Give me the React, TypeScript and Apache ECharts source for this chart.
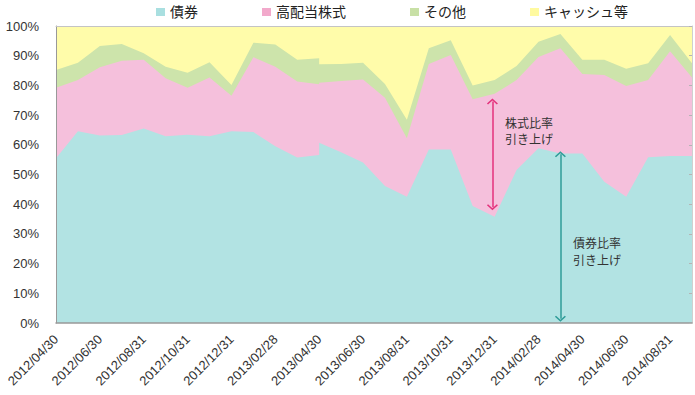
import React, { useEffect, useRef } from 'react';
import * as echarts from 'echarts';

// month-end dates (one per data month)
const months = [
  '2012/04/30', '2012/05/31', '2012/06/30', '2012/07/31', '2012/08/31', '2012/09/30',
  '2012/10/31', '2012/11/30', '2012/12/31', '2013/01/31', '2013/02/28', '2013/03/31',
  '2013/04/30', '2013/05/31', '2013/06/30', '2013/07/31', '2013/08/31', '2013/09/30',
  '2013/10/31', '2013/11/30', '2013/12/31', '2014/01/31', '2014/02/28', '2014/03/31',
  '2014/04/30', '2014/05/31', '2014/06/30', '2014/07/31', '2014/08/31', '2014/09/30',
];

// position (month index) of each observation; 2013/04/30 has a before/after pair
const xPos = [0, 1, 2, 3, 4, 5, 6, 7, 8, 9, 10, 11, 12, 12, 13, 14, 15, 16, 17, 18, 19, 20, 21, 22, 23, 24, 25, 26, 27, 28, 29];

const seriesNames = ['債券', '高配当株式', 'その他', 'キャッシュ等'];

const bonds = [55.5, 64.6, 63.1, 63.3, 65.5, 62.9, 63.4, 62.9, 64.6, 64.3, 59.5, 55.7, 56.6, 60.7, 57.5, 54.0, 46.1, 42.5, 58.4, 58.4, 39.4, 35.8, 51.5, 58.8, 57.1, 57.1, 47.6, 42.5, 55.8, 56.2, 56.2];
const stocks = [23.7, 17.2, 23.0, 25.0, 23.1, 19.5, 15.8, 19.8, 11.9, 25.2, 26.8, 25.6, 23.8, 20.2, 24.0, 28.0, 29.7, 19.7, 28.8, 31.8, 35.9, 41.4, 30.3, 30.8, 35.4, 26.7, 35.9, 37.3, 26.0, 35.3, 26.5];
const others = [6.0, 5.8, 7.2, 5.6, 2.2, 3.9, 5.1, 5.1, 3.6, 4.9, 7.5, 7.3, 8.7, 6.2, 5.7, 5.6, 4.7, 6.2, 5.3, 5.0, 4.7, 4.6, 4.7, 5.1, 4.8, 4.8, 5.1, 5.8, 5.7, 5.5, 4.8];
const cash = [14.8, 12.4, 6.7, 6.1, 9.2, 13.7, 15.7, 12.2, 19.9, 5.6, 6.2, 11.4, 10.9, 12.9, 12.8, 12.4, 19.5, 31.6, 7.5, 4.8, 20.0, 18.2, 13.5, 5.3, 2.7, 11.4, 11.4, 14.4, 12.5, 3.0, 12.5];

const areaColors = ['#b2e3e3', '#f5c0dc', '#cde4ab', '#fffcaa'];
const legendColors = ['#a9dfe0', '#f2a9cb', '#c8e0a6', '#fffaa0'];

// annotation arrows in data coordinates [x index, percent]
const stockArrow = [[19.9, 74.6], [19.9, 39.0]];
const bondArrow = [[23.0, 56.8], [23.0, 1.4]];

const FONT = "'Liberation Sans', 'Noto Sans CJK JP', sans-serif";

export default function App() {
  const ref = useRef<HTMLDivElement>(null);
  useEffect(() => {
    document.body.style.margin = '0';
    const chart = echarts.init(ref.current!, null, { renderer: 'svg' });
    const chevron = 'path://M0,6 L6,0 L12,6 L10.8,7.2 L6,2.4 L1.2,7.2 Z';
    const values = [bonds, stocks, others, cash];
    // cumulative tops (stacking done here because both axes are value axes)
    const tops: number[][] = [];
    values.forEach((vals, si) => {
      tops.push(vals.map((v, i) => (si > 0 ? tops[si - 1][i] : 0) + v));
    });
    const order = [3, 2, 1, 0]; // draw top band first so lower bands cover it
    const series: any[] = order.map((si) => ({
      name: seriesNames[si],
      type: 'line',
      data: tops[si].map((v, i) => [xPos[i], Math.round(v * 100) / 100]),
      showSymbol: false,
      symbol: 'none',
      lineStyle: { width: 0 },
      areaStyle: { color: areaColors[si], opacity: 1, origin: 'start' },
      itemStyle: { color: legendColors[si] },
      silent: true,
      z: 2,
    }));
    series.push({
      name: 'annotations',
      type: 'line',
      data: [],
      silent: true,
      z: 5,
      markLine: {
        silent: true,
        symbol: [chevron, chevron],
        symbolSize: [11, 6],
        label: { show: false },
        emphasis: { disabled: true },
        data: [
          [
            { coord: stockArrow[0], lineStyle: { color: '#e3327c', width: 1.5, type: 'solid' } },
            { coord: stockArrow[1], lineStyle: { color: '#e3327c', width: 1.5, type: 'solid' } },
          ],
          [
            { coord: bondArrow[0], lineStyle: { color: '#2f9c98', width: 1.5, type: 'solid' } },
            { coord: bondArrow[1], lineStyle: { color: '#2f9c98', width: 1.5, type: 'solid' } },
          ],
        ],
      },
    });
    chart.setOption({
      animation: false,
      textStyle: { fontFamily: FONT },
      grid: { left: 56, right: 3, top: 26, bottom: 72 },
      legend: {
        top: 0,
        left: 151,
        icon: 'rect',
        itemWidth: 9,
        itemHeight: 8,
        itemGap: 64,
        selectedMode: false,
        textStyle: { fontSize: 14, color: '#222', fontFamily: FONT },
        data: seriesNames.map((n, i) => ({ name: n, itemStyle: { color: legendColors[i] } })),
      },
      xAxis: [
        {
          type: 'value',
          min: 0,
          max: 29,
          interval: 2,
          splitLine: { show: false },
          axisTick: { show: false },
          axisLine: { show: true, onZero: false, lineStyle: { color: '#999', width: 1.5 } },
          axisLabel: {
            rotate: 45,
            margin: 14,
            fontSize: 13,
            color: '#333',
            fontFamily: FONT,
            showMaxLabel: false,
            formatter: (v: number) => (Number.isInteger(v) && v % 2 === 0 ? months[v] : ''),
          },
          z: 10,
        },
        {
          type: 'value',
          position: 'top',
          min: 0,
          max: 29,
          splitLine: { show: false },
          axisTick: { show: false },
          axisLabel: { show: false },
          axisLine: { show: true, onZero: false, lineStyle: { color: '#c4c4c4', width: 1 } },
          z: 10,
        },
      ],
      yAxis: [
        {
          type: 'value',
          min: 0,
          max: 100,
          interval: 10,
          splitLine: { show: false },
          axisTick: { show: false },
          axisLine: { show: true, onZero: false, lineStyle: { color: '#999', width: 1 } },
          axisLabel: { formatter: '{value}%', fontSize: 13, color: '#333', margin: 17, fontFamily: FONT },
          z: 10,
        },
        {
          type: 'value',
          position: 'right',
          min: 0,
          max: 100,
          interval: 10,
          splitLine: { show: false },
          axisLabel: { show: false },
          axisTick: { show: true, inside: true, length: 3, lineStyle: { color: '#b5b5b5' } },
          axisLine: { show: true, onZero: false, lineStyle: { color: '#d0d0d0', width: 1 } },
          z: 10,
        },
      ],
      graphic: [
        {
          type: 'text',
          left: 505,
          top: 116,
          silent: true,
          z: 100,
          style: { text: '株式比率\n引き上げ', fontSize: 12, lineHeight: 16, fill: '#333', fontFamily: FONT },
        },
        {
          type: 'text',
          left: 573,
          top: 236,
          silent: true,
          z: 100,
          style: { text: '債券比率\n引き上げ', fontSize: 12, lineHeight: 16.5, fill: '#333', fontFamily: FONT },
        },
      ],
      series,
    });
    return () => chart.dispose();
  }, []);
  return <div ref={ref} style={{ width: 695, height: 395 }} />;
}
